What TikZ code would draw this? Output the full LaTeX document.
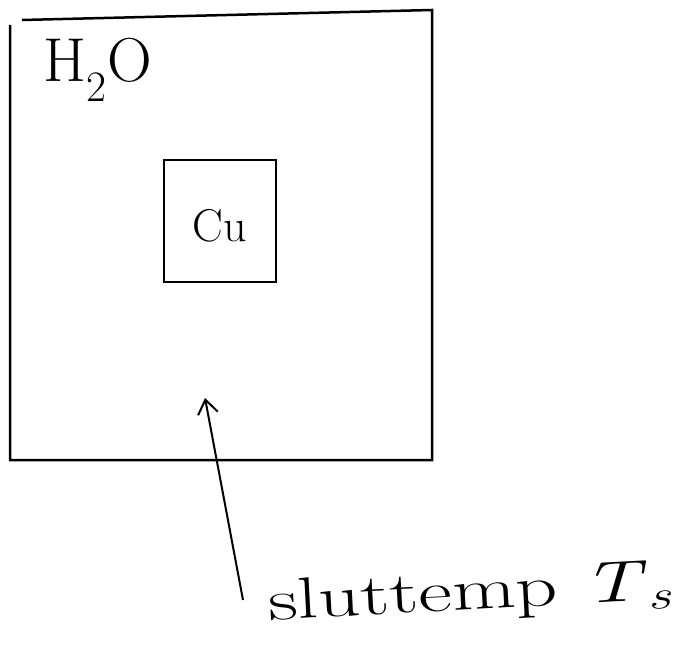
\documentclass[tikz,border=0pt]{standalone}
\usetikzlibrary{arrows.meta}
\begin{document}
\begin{tikzpicture}[line width=2.5pt,x=1pt,y=-1pt]
   \useasboundingbox (0,0) rectangle (682,647);
   % Water
   \draw (10,25) -- (10,460) -- (432,460) -- (432,10) -- (22,20);
   \node (water) at (98,70) {\fontsize{62}{66}\selectfont H\textsubscript{2}O};
   % Copper
   \draw (164,160) rectangle (276,282);
   \node (copper) at (220,226) {\fontsize{46}{50}\selectfont Cu};
   % Final temperature
   \node[rotate=3,xscale=1.42,anchor=west] (final) at (262,606) {\fontsize{58}{62}\selectfont sluttemp \textit{T}\textsubscript{\textit{s}}};
   \coordinate (probe) at (205,398);
   \draw[line width=2pt,-{Straight Barb[length=14pt,width=20pt]}] (243,600) -- (probe);
\end{tikzpicture}
\end{document}
